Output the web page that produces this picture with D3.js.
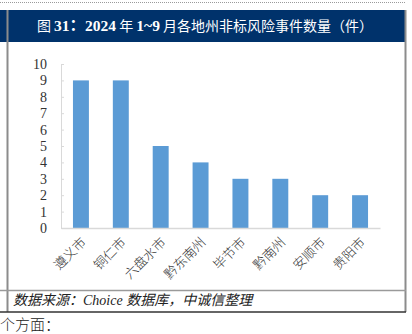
<!DOCTYPE html>
<html><head><meta charset="utf-8">
<script src="https://cdn.jsdelivr.net/npm/d3@7"></script>
<style>body{margin:0;background:#fff}svg{display:block}</style>
</head><body>
<script>
const categories = ["遵义市","铜仁市","六盘水市","黔东南州","毕节市","黔南州","安顺市","贵阳市"];
const values = [9,9,5,4,3,3,2,2];
const yTicks = [0,1,2,3,4,5,6,7,8,9,10];
const titleParts = [["图 ",false],["31：2024",true],[" 年 ",false],["1~9",true],[" 月各地州非标风险事件数量（件）",false]];
const source = "数据来源：Choice 数据库，中诚信整理";

const W=412,H=334;
const svg=d3.select("body").append("svg").attr("width",W).attr("height",H);
svg.append("line").attr("x1",0).attr("x2",406).attr("y1",2.5).attr("y2",2.5)
  .attr("stroke","#9a9a9a").attr("stroke-dasharray","1,1").attr("stroke-width",1);
svg.append("rect").attr("x",0).attr("y",10).attr("width",405).attr("height",32).attr("fill","#00326b");
const tt=svg.append("text").attr("x",205).attr("y",31).attr("text-anchor","middle")
  .attr("fill","#fff").attr("font-size",14);
tt.selectAll("tspan").data(titleParts).join("tspan")
  .attr("font-family",d=>d[1]?"'Liberation Serif','Noto Sans CJK SC',serif":"'Noto Sans CJK SC',serif")
  .attr("font-weight",d=>d[1]?"bold":"normal")
  .attr("font-size",d=>d[1]?15.5:14)
  .text(d=>d[0]);
svg.append("line").attr("x1",7.5).attr("x2",7.5).attr("y1",10).attr("y2",312).attr("stroke","#8c8c8c").attr("stroke-width",2);
svg.append("line").attr("x1",405.5).attr("x2",405.5).attr("y1",10).attr("y2",312).attr("stroke","#8c8c8c").attr("stroke-width",2);
svg.append("line").attr("x1",0).attr("x2",406).attr("y1",290.5).attr("y2",290.5).attr("stroke","#9a9a9a").attr("stroke-width",1.5);
svg.append("line").attr("x1",0).attr("x2",406).attr("y1",312).attr("y2",312).attr("stroke","#333").attr("stroke-width",1.5);
svg.append("text").attr("x",13).attr("y",305).attr("font-family","'Liberation Serif','Noto Sans CJK SC',serif")
  .attr("font-style","italic").attr("font-size",14).attr("fill","#222").text(source);
svg.append("text").attr("x",0).attr("y",330).attr("font-family","'Noto Sans CJK SC',serif")
  .attr("font-size",15).attr("font-weight",300).attr("fill","#222").text("个方面：");

const x=d3.scaleBand().domain(categories).range([61,380]).paddingInner(0.6).paddingOuter(0.3);
const y=d3.scaleLinear().domain([0,10]).range([228,64]);

const gy=svg.append("g").attr("transform","translate(61,0)")
  .call(d3.axisRight(y).tickValues(yTicks).tickSize(3).tickFormat(""));
gy.select(".domain").attr("stroke","#d9d9d9");
gy.selectAll(".tick line").attr("stroke","#d9d9d9");
svg.append("g").selectAll("text").data(yTicks).join("text")
  .attr("x",47).attr("y",d=>y(d)+5).attr("text-anchor","end")
  .attr("font-family","'Times New Roman','Liberation Serif',serif").attr("font-size",14).attr("fill","#333").text(d=>d);

svg.append("g").selectAll("rect").data(values).join("rect")
  .attr("x",(d,i)=>x(categories[i])).attr("width",x.bandwidth())
  .attr("y",d=>y(d)).attr("height",d=>y(0)-y(d)).attr("fill","#5b9bd5");

const gx=svg.append("g").attr("transform","translate(0,228)")
  .call(d3.axisBottom(x).tickSize(0).tickFormat(""));
gx.select(".domain").attr("stroke","#d9d9d9").attr("stroke-width",1.5);

svg.append("g").selectAll("text").data(categories).join("text")
  .attr("transform",d=>`translate(${x(d)+x.bandwidth()/2+6},243) rotate(-45)`)
  .attr("text-anchor","end").attr("font-family","'Noto Sans CJK SC',serif")
  .attr("font-size",13).attr("font-weight",300).attr("fill","#333").text(d=>d);
</script>
</body></html>
